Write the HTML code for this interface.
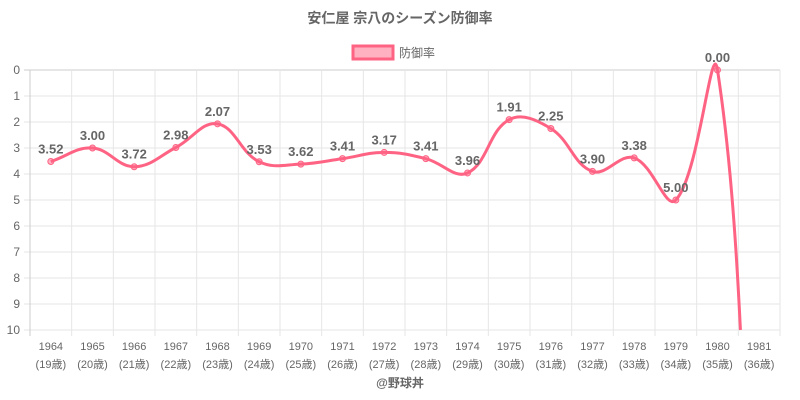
<!DOCTYPE html>
<html><head><meta charset="utf-8"><style>
html,body{margin:0;padding:0;background:#fff;width:800px;height:400px;overflow:hidden}
svg{display:block}
svg text{font-family:"Liberation Sans","Noto Sans CJK JP",sans-serif}
</style></head><body>
<svg id="s" width="800" height="400" xmlns="http://www.w3.org/2000/svg">
<text x="400" y="23" text-anchor="middle" font-size="14" font-weight="bold" fill="#666">安仁屋 宗八のシーズン防御率</text>
<rect x="353" y="46" width="40" height="13" fill="rgba(255,99,132,0.5)" stroke="#ff6384" stroke-width="3"/>
<text x="399" y="57" font-size="12" fill="#666">防御率</text>
<text x="400" y="387" text-anchor="middle" font-size="12" font-weight="bold" fill="#666">@野球丼</text>
<g id="g"></g>
</svg>
<script>
const NS="http://www.w3.org/2000/svg",g=document.getElementById('g');
function el(t,a,txt){const e=document.createElementNS(NS,t);for(const k in a)e.setAttribute(k,a[k]);if(txt!==undefined)e.textContent=txt;g.appendChild(e);return e;}
const L=30,R=780,T=70,B=330,n=18,w=(R-L)/n;
const Y=v=>T+(B-T)*v/10, X=i=>L+w/2+w*i;
for(let v=0;v<=10;v++){el('line',{x1:L-6,x2:R,y1:Y(v),y2:Y(v),stroke:v==0?'#ccc':'#e6e6e6'});
el('text',{x:20,y:Y(v)+4,'text-anchor':'end','font-size':12,fill:'#666'},v);}
for(let i=0;i<=n;i++){el('line',{x1:L+w*i,x2:L+w*i,y1:T,y2:B+6,stroke:i==0?'#ccc':'#e6e6e6'});}
const ages=[19,20,21,22,23,24,25,26,27,28,29,30,31,32,33,34,35,36];
for(let i=0;i<n;i++){el('text',{x:X(i),y:350,'text-anchor':'middle','font-size':11,fill:'#666'},1964+i);
el('text',{x:X(i),y:368,'text-anchor':'middle','font-size':11,fill:'#666'},'('+ages[i]+'歳)');}
const d=[3.52,3.00,3.72,2.98,2.07,3.53,3.62,3.41,3.17,3.41,3.96,1.91,2.25,3.90,3.38,5.00,0.00,26];
const P=d.map((v,i)=>({x:X(i),y:Y(v)}));
let path='M'+P[0].x+','+P[0].y;const t=0.4;
function cps(p0,p1,p2){const d01=Math.hypot(p1.x-p0.x,p1.y-p0.y),d12=Math.hypot(p2.x-p1.x,p2.y-p1.y);
const fa=t*d01/(d01+d12),fb=t*d12/(d01+d12);
return[{x:p1.x-fa*(p2.x-p0.x),y:p1.y-fa*(p2.y-p0.y)},{x:p1.x+fb*(p2.x-p0.x),y:p1.y+fb*(p2.y-p0.y)}];}
const C=P.map((p,i)=>cps(P[Math.max(i-1,0)],p,P[Math.min(i+1,P.length-1)]));
const lerp=(a,b,s)=>({x:a.x+(b.x-a.x)*s,y:a.y+(b.y-a.y)*s});
for(let i=1;i<P.length;i++){let p0=P[i-1],a=C[i-1][1],b=C[i][0],p3=P[i];
if(i==P.length-1){
 const at=s=>{const q0=lerp(p0,a,s),q1=lerp(a,b,s),q2=lerp(b,p3,s),r0=lerp(q0,q1,s),r1=lerp(q1,q2,s);return {q0,r0,m:lerp(r0,r1,s)};};
 let lo=0,hi=1;for(let k=0;k<50;k++){const md=(lo+hi)/2;if(at(md).m.y<B)lo=md;else hi=md;}
 const r=at(lo);a=r.q0;b=r.r0;p3=r.m;}
path+=` C${a.x},${a.y} ${b.x},${b.y} ${p3.x},${p3.y}`;}
el('path',{d:path,fill:'none',stroke:'#ff6384','stroke-width':3});
for(let i=0;i<17;i++){el('circle',{cx:P[i].x,cy:P[i].y,r:3,fill:'rgba(255,99,132,0.5)',stroke:'#ff6384','stroke-width':1});
el('text',{x:P[i].x,y:P[i].y-8,'text-anchor':'middle','font-size':13,'font-weight':'bold',fill:'#666'},d[i].toFixed(2));}
</script>
</body></html>
